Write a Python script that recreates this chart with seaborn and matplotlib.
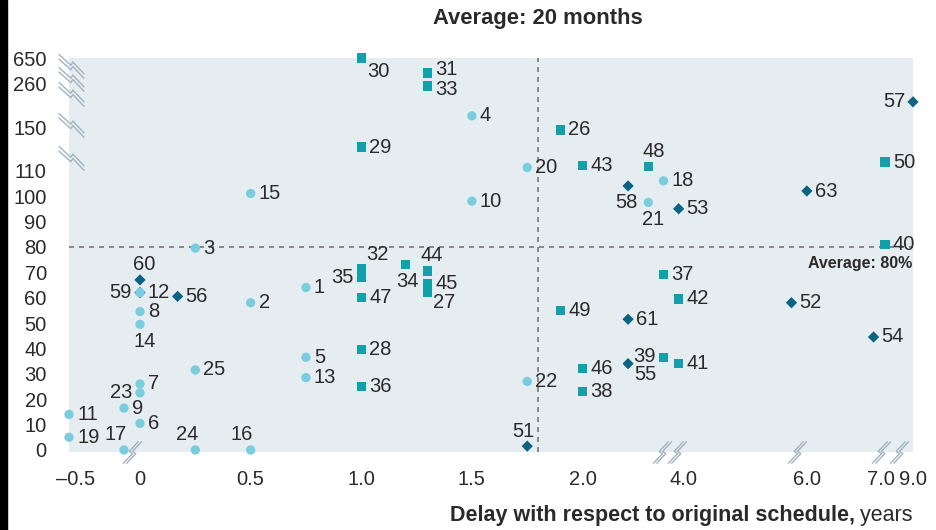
import numpy as np
import pandas as pd
import matplotlib
matplotlib.use("Agg")
import matplotlib.pyplot as plt
import seaborn as sns
from matplotlib.path import Path
from matplotlib.patches import Rectangle

# ---------------- data ----------------
project_id = [1, 2, 3, 4, 5, 6, 7, 8, 9, 10, 11, 12, 13, 14, 15, 16, 17, 18, 19, 20,
              21, 22, 23, 24, 25,
              26, 27, 28, 29, 30, 31, 32, 33, 34, 35, 36, 37, 38, 39, 40, 41, 42, 43,
              44, 45, 46, 47, 48, 49, 50,
              51, 52, 53, 54, 55, 56, 57, 58, 59, 60, 61, 63]
delay_years = [0.75, 0.5, 0.25, 1.5, 0.75, 0.0, 0.0, 0.0, -0.1, 1.5, -0.55, 0.0, 0.75, 0.0,
               0.5, 0.5, -0.1, 3.6, -0.55, 1.75, 3.3, 1.75, 0.0, 0.25, 0.25,
               1.9, 1.3, 1.0, 1.0, 1.0, 1.3, 1.0, 1.3, 1.2, 1.0, 1.0, 3.6, 2.0, 3.6, 7.25,
               3.9, 3.9, 2.0, 1.3, 1.3, 2.0, 1.0, 3.3, 1.9, 7.25,
               1.75, 5.75, 3.9, 6.9, 2.9, 0.17, 9.0, 2.9, 0.0, 0.0, 2.9, 6.0]
cost_overrun = [64, 58, 79.5, 180, 36.5, 10.5, 26, 54.5, 16.5, 98, 14, 62, 28.5, 49.5,
                101, 0, 0, 106, 5, 113, 97.5, 27, 22.5, 0, 31.5,
                148, 62, 39.5, 132, 650, 425, 71.5, 255, 73, 68, 25, 69, 23, 36.5, 81,
                34, 59.5, 115, 70.5, 65.5, 32, 60, 114, 55, 118,
                1.5, 58, 95, 44.5, 34, 60.5, 215, 104, 62, 67, 51.5, 102]
project_type = ["A"] * 25 + ["B"] * 25 + ["C"] * 12

x_ticks = [-0.5, 0, 0.5, 1.0, 1.5, 2.0, 4.0, 6.0, 7.0, 9.0]
x_tick_labels = ["–0.5", "0", "0.5", "1.0", "1.5", "2.0", "4.0", "6.0", "7.0", "9.0"]
y_ticks = [0, 10, 20, 30, 40, 50, 60, 70, 80, 90, 100, 110, 150, 260, 650]
y_tick_labels = [str(v) for v in y_ticks]
avg_delay_pos = 1.8
avg_overrun = 80
title_text = "Average: 20 months"
avg_overrun_text = "Average: 80%"
xlabel_bold = "Delay with respect to original schedule,"
xlabel_regular = " years"

# ---------------- styling ----------------
colors = {"A": "#79CDDF", "B": "#12A0AA", "C": "#0B6383"}
markers = {"A": "o", "B": "s", "C": "D"}
sizes = {"A": 45, "B": 45, "C": 33}
text_color = "#2a2a2a"
bg = "#E6EDF1"
FS = 14.5

# label placement (dx, dy in pixels, ha)
label_place = {}
for i in [23, 35, 57, 59]:
    label_place[i] = (-8, 0, "right")
label_place[39] = (-8, 1, "right")
for i, dx in [(16, -9), (17, -8), (24, -8), (51, -4), (60, 4), (44, 4), (48, 5)]:
    label_place[i] = (dx, 15, "center")
for i, dx in [(14, 5), (21, 5), (34, 2), (58, -2)]:
    label_place[i] = (dx, -17, "center")
label_place[30] = (6, -13, "left")
label_place[32] = (5, 14, "left")
label_place[27] = (5, -10, "left")
label_place[55] = (6, -11, "left")
label_place[31] = (8, 3, "left")
label_place[33] = (8, -4, "left")

# ---------------- broken-axis scales ----------------
xv = np.array([-10.0, -0.6, -0.1, 0.0, 2.0, 4.0, 6.0, 7.0, 9.0, 30.0])
xp = np.array([-1082.8, 64, 125, 141, 583, 684, 807, 881, 913, 1249])
yv = np.array([-1000.0, 0, 110, 150, 260, 650, 5000])
yp = np.array([-2545.0, 0, 280, 323, 367, 393, 683])


def fx(v):
    return np.interp(np.asarray(v, dtype=float), xv, xp)


def fx_inv(p):
    return np.interp(np.asarray(p, dtype=float), xp, xv)


def fy(v):
    return np.interp(np.asarray(v, dtype=float), yv, yp)


def fy_inv(p):
    return np.interp(np.asarray(p, dtype=float), yp, yv)


df = pd.DataFrame({"id": project_id, "delay": delay_years,
                   "overrun": cost_overrun, "type": project_type})
layer = {"C": 0, "B": 1, "A": 2}
df["layer"] = df["type"].map(layer)
df = df.sort_values("layer", kind="stable")

sns.set_theme(style="white")
plt.rcParams["font.family"] = ["Liberation Sans", "DejaVu Sans"]

W, H = 936, 530
fig = plt.figure(figsize=(W / 100, H / 100), dpi=100)
ax = fig.add_axes([69 / W, 1 - 452 / H, (913 - 69) / W, (452 - 58) / H])
ax.set_facecolor(bg)
for s in ax.spines.values():
    s.set_visible(False)

ax.set_xscale("function", functions=(fx, fx_inv))
ax.set_yscale("function", functions=(fy, fy_inv))
ax.set_xlim(-0.55, 9.0)
ax.set_ylim(-0.8, 650)

# average lines
ax.axvline(avg_delay_pos, color="#777777", lw=1.2, ls=(0, (3, 3)), zorder=1)
ax.axhline(avg_overrun, color="#777777", lw=1.2, ls=(0, (3, 3)), zorder=1)

sns.scatterplot(data=df, x="delay", y="overrun", hue="type", style="type",
                size="type", sizes=sizes, markers=markers, palette=colors,
                edgecolor="none", linewidth=0, legend=False, ax=ax,
                clip_on=False, zorder=3)

for pid, x, y in zip(df["id"], df["delay"], df["overrun"]):
    dx, dy, ha = label_place.get(pid, (8, 0, "left"))
    ax.annotate(str(pid), xy=(x, y), xytext=(dx, dy), textcoords="offset pixels",
                ha=ha, va="center", fontsize=FS, color=text_color, zorder=4,
                annotation_clip=False)

ax.set_xticks(x_ticks)
ax.set_xticklabels(x_tick_labels)
ax.set_yticks(y_ticks)
ax.set_yticklabels(y_tick_labels)
ax.minorticks_off()
ax.tick_params(axis="both", length=0, labelsize=FS, labelcolor=text_color)
ax.tick_params(axis="x", pad=13)
ax.tick_params(axis="y", pad=16)
ax.set_xlabel("")
ax.set_ylabel("")
ax.grid(False)

# break marks
brk_y = Path([(-1, 0.95), (-0.05, 0.1), (0.1, 0.35), (1, -0.6),
              (-1, 0.6), (-0.05, -0.25), (0.1, 0.0), (1, -0.95)],
             [Path.MOVETO, Path.LINETO, Path.LINETO, Path.LINETO,
              Path.MOVETO, Path.LINETO, Path.LINETO, Path.LINETO])
brk_x = Path([(-0.85, -1), (0.0, -0.1), (-0.3, 0.1), (0.55, 1),
              (-0.55, -1), (0.3, -0.1), (0.0, 0.1), (0.85, 1)],
             [Path.MOVETO, Path.LINETO, Path.LINETO, Path.LINETO,
              Path.MOVETO, Path.LINETO, Path.LINETO, Path.LINETO])
y_break_vals = [530, 335, 235, 157, 122]
x_break_vals = [-0.05, 3.58, 3.86, 5.84, 7.0, 8.125]
ax.plot([0.002] * len(y_break_vals), y_break_vals, transform=ax.get_yaxis_transform(),
        ls="none", marker=brk_y, ms=18.5, mfc="none", mec="#A3B3BF", mew=1.0,
        clip_on=False, zorder=2)
ax.plot(x_break_vals, [0.0] * len(x_break_vals), transform=ax.get_xaxis_transform(),
        ls="none", marker=brk_x, ms=16, mfc="none", mec="#A3B3BF", mew=1.0,
        clip_on=False, zorder=2)

# texts
ax.annotate(title_text, xy=(avg_delay_pos, 1.0), xycoords=("data", "axes fraction"),
            xytext=(0, 40), textcoords="offset pixels", ha="center", va="center",
            fontsize=15.8, fontweight="bold", color=text_color, annotation_clip=False)
ax.annotate(avg_overrun_text, xy=(1.0, avg_overrun), xycoords=("axes fraction", "data"),
            xytext=(-1, -17), textcoords="offset pixels", ha="right", va="center",
            fontsize=11.5, fontweight="bold", color=text_color, annotation_clip=False)

t_reg = fig.text(913 / W, 1 - 515 / H, xlabel_regular, ha="right", va="center",
                 fontsize=15.5, color=text_color)
ax.annotate(xlabel_bold, xy=(0, 0.5), xycoords=t_reg, ha="right", va="center",
            fontsize=15.5, fontweight="bold", color=text_color, annotation_clip=False)

fig.add_artist(Rectangle((0, 0), 7 / W, 1, transform=fig.transFigure,
                         color="black", zorder=10))

fig.savefig("out.png", dpi=100, facecolor="white")
